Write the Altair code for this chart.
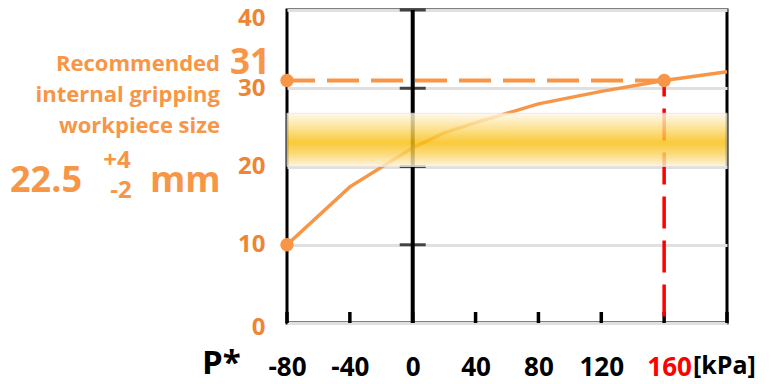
import altair as alt
import pandas as pd

# ---- data ----
pressure_kpa = [-80, -40, 0, 20, 40, 80, 120, 160, 200]
gripping_size = [10.0, 17.4, 22.4, 24.3, 25.6, 28.0, 29.6, 31.0, 32.1]

marker_x = [-80, -80, 160]
marker_y = [10, 31, 31]

x_ticks = [-80, -40, 0, 40, 80, 120, 160, 200]
y_ticks = [0, 10, 20, 30, 40]
inner_x_ticks = [-80, -40, 0, 40, 80, 120, 160, 200]
center_ticks = [10, 20, 30, 40]

recommended = 31
selected_pressure = 160
band_low, band_high = 20.0, 26.8

ORANGE = "#F79646"
LABEL_ORANGE = "#EE8534"
FONT = "Open Sans"

W, H = 440, 313

curve_df = pd.DataFrame({"p": pressure_kpa, "s": gripping_size})
marker_df = pd.DataFrame({"p": marker_x, "s": marker_y})

xscale = alt.Scale(domain=[-80, 200], nice=False, zero=False)
yscale = alt.Scale(domain=[0, 40], nice=False, zero=False)

x_axis = alt.Axis(
    values=x_ticks, title=None, grid=False, domain=False, ticks=False, tickSize=0,
    labelFont=FONT, labelFontWeight="bold", labelFontSize=26,
    labelBaseline="alphabetic", labelPadding=52, labelOverlap=False, labelFlush=False,
    labelExpr="datum.value == 200 ? '' : toString(datum.value)",
    labelColor={"condition": {"test": "datum.value == 160", "value": "#FF0000"}, "value": "black"},
    labelOffset={"condition": {"test": "datum.value == 160", "value": 5}, "value": 0},
)
y_axis = alt.Axis(
    values=y_ticks, title=None, grid=True, gridColor="#e0e0e0", gridWidth=3,
    domain=False, ticks=False, tickSize=0,
    labelFont=FONT, labelFontWeight="bold", labelFontSize=24, labelColor=LABEL_ORANGE,
    labelPadding=22, labelFlush=False, labelOverlap=False,
    labelOffset={"condition": [{"test": "datum.value == 40", "value": 8},
                               {"test": "datum.value == 0", "value": 4}],
                 "value": 0},
)

curve = alt.Chart(curve_df).mark_line(color=ORANGE, strokeWidth=3.5).encode(
    x=alt.X("p:Q", scale=xscale, axis=x_axis),
    y=alt.Y("s:Q", scale=yscale, axis=y_axis),
)

zero_line = alt.Chart(alt.Data(values=[{"p": 0, "a": 0, "b": 40}])).mark_rule(
    color="black", strokeWidth=4
).encode(x=alt.X("p:Q", scale=xscale), y=alt.Y("a:Q", scale=yscale), y2="b:Q")

center_df = pd.DataFrame({"p": [0] * len(center_ticks), "s": center_ticks})
center_tick_marks = alt.Chart(center_df).mark_tick(
    orient="horizontal", size=26, thickness=3, color="black"
).encode(x=alt.X("p:Q", scale=xscale), y=alt.Y("s:Q", scale=yscale))

bottom_df = pd.DataFrame({"p": inner_x_ticks})
bottom_ticks = alt.Chart(bottom_df).mark_rule(color="black", strokeWidth=3.5).encode(
    x=alt.X("p:Q", scale=xscale), y=alt.value(H), y2=alt.value(H - 11)
)

h_dash = alt.Chart(alt.Data(values=[{"a": -80, "b": selected_pressure, "s": recommended}])).mark_rule(
    color=ORANGE, strokeWidth=4, strokeDash=[32, 12], strokeDashOffset=4
).encode(x=alt.X("a:Q", scale=xscale), x2="b:Q", y=alt.Y("s:Q", scale=yscale))

v_dash = alt.Chart(alt.Data(values=[{"p": selected_pressure, "a": recommended, "b": 0}])).mark_rule(
    color="#FF0000", strokeWidth=3.5, strokeDash=[32, 12], strokeDashOffset=16
).encode(x=alt.X("p:Q", scale=xscale), y=alt.Y("a:Q", scale=yscale), y2="b:Q")

band_fill = alt.LinearGradient(
    gradient="linear", x1=0, x2=0, y1=0, y2=1,
    stops=[
        alt.GradientStop(color="#FFF8EA", offset=0.0),
        alt.GradientStop(color="#FDE08A", offset=0.25),
        alt.GradientStop(color="#F8BF10", offset=0.55),
        alt.GradientStop(color="#FBD15A", offset=0.75),
        alt.GradientStop(color="#FFF3DA", offset=1.0),
    ],
)
band = alt.Chart(alt.Data(values=[{"a": -80, "b": 200, "lo": band_low, "hi": band_high}])).mark_rect(
    fill=band_fill, opacity=0.82, stroke="#e6e6e6", strokeWidth=1
).encode(x=alt.X("a:Q", scale=xscale), x2="b:Q", y=alt.Y("lo:Q", scale=yscale), y2="hi:Q")

markers = alt.Chart(marker_df).mark_circle(color=ORANGE, opacity=1, size=180).encode(
    x=alt.X("p:Q", scale=xscale), y=alt.Y("s:Q", scale=yscale)
)


def label(txt, x, y, size, color=ORANGE, align="left", baseline="alphabetic"):
    return alt.Chart(alt.Data(values=[{}])).mark_text(
        text=txt, font=FONT, fontWeight="bold", fontSize=size, color=color,
        align=align, baseline=baseline,
    ).encode(x=alt.value(x), y=alt.value(y))


texts = [
    label("Recommended", -67, 61, 22, align="right"),
    label("internal gripping", -67, 92, 22, align="right"),
    label("workpiece size", -67, 123, 22, align="right"),
    label(str(recommended), -17, 64, 35, align="right"),
    label("22.5", -277, 182, 36),
    label("+4", -170, 158, 24, align="center"),
    label("-2", -166, 188, 24, align="center"),
    label("mm", -137, 182, 36),
    label("P*", -85, 364, 33, color="black"),
    label("[kPa]", 406, 364, 25, color="black"),
]

chart = alt.layer(
    curve, zero_line, center_tick_marks, bottom_ticks, h_dash, v_dash, band, markers, *texts
).properties(
    width=W, height=H,
    autosize=alt.AutoSizeParams(type="none"),
    padding={"left": 279, "top": 2, "right": 40, "bottom": 60},
).configure_view(stroke="black", strokeWidth=3)

chart.save("out.html", embed_options={"renderer": "svg", "actions": False})
